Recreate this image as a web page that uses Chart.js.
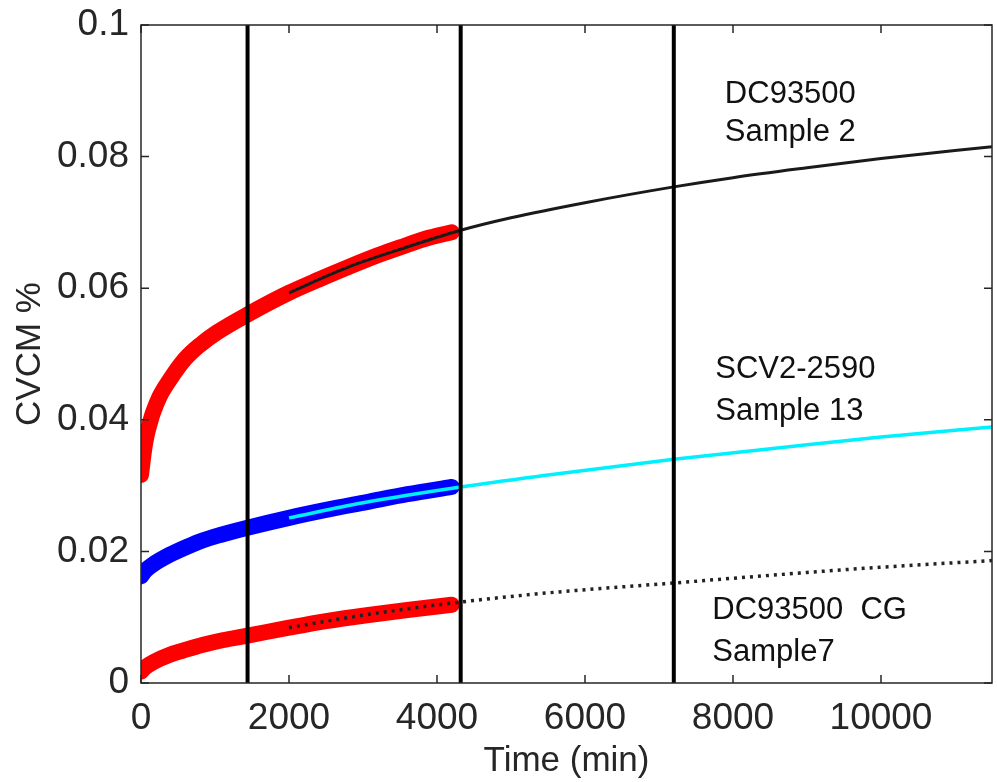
<!DOCTYPE html>
<html>
<head>
<meta charset="utf-8">
<script src="https://cdn.jsdelivr.net/npm/chart.js@4.4.1/dist/chart.umd.min.js"></script>
<style>
  html, body { margin: 0; padding: 0; background: #fff; }
  canvas { display: block; }
</style>
</head>
<body>
<canvas id="cvcmChart" width="997" height="782"></canvas>
<script>
'use strict';

// DC93500 sample 2 - measured (thick red)
var s2Time = [0, 20, 50, 80, 120, 160, 250, 390, 600, 800, 1030, 1440, 2000, 2400, 2800, 3200, 3500, 3900, 4200];
var s2Cvcm = [0.0316, 0.0335, 0.0360, 0.0378, 0.0395, 0.0410, 0.0435, 0.0461, 0.0493, 0.0514, 0.0533, 0.0560, 0.0593, 0.0613, 0.0632, 0.0650, 0.0662, 0.0677, 0.0685];
// DC93500 sample 2 - fit (thin black)
var s2FitTime = [2000, 2800, 3500, 4320, 5000, 6000, 7200, 8000, 9000, 10000, 11500];
var s2FitCvcm = [0.0593, 0.0632, 0.0659, 0.0688, 0.0707, 0.0730, 0.0754, 0.0768, 0.0783, 0.0797, 0.0815];

// SCV2-2590 sample 13 - measured (thick blue)
var s13Time = [0, 60, 160, 390, 620, 840, 1070, 1440, 2000, 2500, 3050, 3600, 4200];
var s13Cvcm = [0.0162, 0.0171, 0.0180, 0.0195, 0.0207, 0.0217, 0.0225, 0.0236, 0.0251, 0.0263, 0.0275, 0.0287, 0.0298];
// SCV2-2590 sample 13 - fit (cyan)
var s13FitTime = [2000, 3000, 4320, 5500, 7200, 9000, 10000, 11500];
var s13FitCvcm = [0.0251, 0.0274, 0.0298, 0.0316, 0.0340, 0.0362, 0.0374, 0.0389];

// DC93500 CG sample 7 - measured (thick red)
var s7Time = [0, 60, 170, 390, 620, 840, 1100, 1440, 2000, 2500, 3050, 3600, 4200];
var s7Cvcm = [0.0017, 0.0024, 0.0032, 0.0043, 0.0051, 0.0058, 0.0065, 0.0072, 0.0084, 0.0094, 0.0103, 0.0111, 0.0119];
// DC93500 CG sample 7 - fit (dotted)
var s7FitTime = [2000, 3000, 4320, 5500, 7200, 9000, 10000, 11500];
var s7FitCvcm = [0.0084, 0.0103, 0.0123, 0.0137, 0.0152, 0.0168, 0.0176, 0.0186];

// vertical marker lines (24 h, 72 h, 120 h)
var markerTimes = [1440, 4320, 7200];

var xTicks = [0, 2000, 4000, 6000, 8000, 10000];
var yTicks = [0, 0.02, 0.04, 0.06, 0.08, 0.1];

var notes = [
    ['DC93500', 'Sample 2'],
    ['SCV2-2590', 'Sample 13'],
    ['DC93500  CG', 'Sample7']
];

var FONT = '"Liberation Sans", Arial, Helvetica, sans-serif';
var AXIS_COLOR = '#262626';

function toPoints(xs, ys) {
    return xs.map(function (x, i) { return { x: x, y: ys[i] }; });
}

function thick(label, xs, ys, color) {
    return {
        label: label,
        data: toPoints(xs, ys),
        borderColor: color,
        borderWidth: 16,
        borderCapStyle: 'round',
        borderJoinStyle: 'round',
        pointRadius: 0,
        cubicInterpolationMode: 'monotone',
        fill: false,
        order: 3
    };
}

function thin(label, xs, ys, color, width, dash) {
    return {
        label: label,
        data: toPoints(xs, ys),
        borderColor: color,
        borderWidth: width,
        borderDash: dash || [],
        pointRadius: 0,
        cubicInterpolationMode: 'monotone',
        fill: false,
        order: 2
    };
}

var datasets = [
    thick('Sample 2', s2Time, s2Cvcm, '#ff0000'),
    thick('Sample 13', s13Time, s13Cvcm, '#0000ff'),
    thick('Sample7', s7Time, s7Cvcm, '#ff0000'),
    thin('Sample 2 fit', s2FitTime, s2FitCvcm, '#1a1a1a', 3),
    thin('Sample 13 fit', s13FitTime, s13FitCvcm, '#00f0ff', 3.5),
    thin('Sample7 fit', s7FitTime, s7FitCvcm, '#222222', 3.5, [3, 5])
];

markerTimes.forEach(function (t) {
    datasets.push({
        label: 'marker ' + t,
        data: [{ x: t, y: yTicks[0] }, { x: t, y: yTicks[yTicks.length - 1] }],
        borderColor: '#000',
        borderWidth: 4,
        pointRadius: 0,
        order: 1
    });
});

function fixedTicks(list) {
    return function (scale) {
        scale.ticks = list.map(function (v) { return { value: v }; });
    };
}

// axes box with inward ticks, like the original figure
var boxPlugin = {
    id: 'boxPlugin',
    afterDatasetsDraw: function (chart) {
        var ctx = chart.ctx;
        var area = chart.chartArea;
        var xs = chart.scales.x;
        var ys = chart.scales.y;
        var len = 8;
        ctx.save();
        ctx.strokeStyle = AXIS_COLOR;
        ctx.lineWidth = 1.5;
        ctx.beginPath();
        xTicks.forEach(function (v) {
            var px = xs.getPixelForValue(v);
            ctx.moveTo(px, area.bottom);
            ctx.lineTo(px, area.bottom - len);
            ctx.moveTo(px, area.top);
            ctx.lineTo(px, area.top + len);
        });
        yTicks.forEach(function (v) {
            var py = ys.getPixelForValue(v);
            ctx.moveTo(area.left, py);
            ctx.lineTo(area.left + len, py);
            ctx.moveTo(area.right, py);
            ctx.lineTo(area.right - len, py);
        });
        ctx.stroke();
        ctx.strokeRect(area.left, area.top, area.right - area.left, area.bottom - area.top);

        // text notes next to the curves
        var spots = [[7890, 0.0894, 0.0836], [7760, 0.0476, 0.0412], [7720, 0.0111, 0.0046]];
        ctx.fillStyle = '#111';
        ctx.font = '31px ' + FONT;
        ctx.textAlign = 'left';
        ctx.textBaseline = 'middle';
        notes.forEach(function (lines, i) {
            var px = xs.getPixelForValue(spots[i][0]);
            ctx.fillText(lines[0], px, ys.getPixelForValue(spots[i][1]));
            ctx.fillText(lines[1], px, ys.getPixelForValue(spots[i][2]));
        });
        ctx.restore();
    }
};

var chart = new Chart(document.getElementById('cvcmChart'), {
    type: 'line',
    data: { datasets: datasets },
    plugins: [boxPlugin],
    options: {
        responsive: false,
        animation: false,
        layout: { padding: { left: 0, right: 5, top: 25, bottom: 0 } },
        plugins: {
            legend: { display: false },
            tooltip: { enabled: false }
        },
        scales: {
            x: {
                type: 'linear',
                min: 0,
                max: 11500,
                afterBuildTicks: fixedTicks(xTicks),
                afterFit: function (scale) {
                    scale.height = 99;
                    scale.paddingLeft = 0;
                    scale.paddingRight = 0;
                },
                grid: { display: false, drawTicks: false },
                border: { display: false },
                ticks: {
                    autoSkip: false,
                    maxRotation: 0,
                    padding: 14,
                    color: AXIS_COLOR,
                    font: { family: FONT, size: 37 },
                    callback: function (v) { return String(v); }
                },
                title: {
                    display: true,
                    text: 'Time (min)',
                    color: AXIS_COLOR,
                    padding: { top: 0, bottom: 0 },
                    font: { family: FONT, size: 35 }
                }
            },
            y: {
                type: 'linear',
                min: 0,
                max: 0.1,
                afterBuildTicks: fixedTicks(yTicks),
                afterFit: function (scale) {
                    scale.width = 141;
                    scale.paddingTop = 0;
                    scale.paddingBottom = 0;
                },
                grid: { display: false, drawTicks: false },
                border: { display: false },
                ticks: {
                    autoSkip: false,
                    padding: 12,
                    color: AXIS_COLOR,
                    font: { family: FONT, size: 37 },
                    callback: function (v) { return String(+Number(v).toFixed(2)); }
                },
                title: {
                    display: true,
                    text: 'CVCM %',
                    color: AXIS_COLOR,
                    padding: { top: 9, bottom: 0 },
                    font: { family: FONT, size: 35 }
                }
            }
        }
    }
});
</script>
</body>
</html>
